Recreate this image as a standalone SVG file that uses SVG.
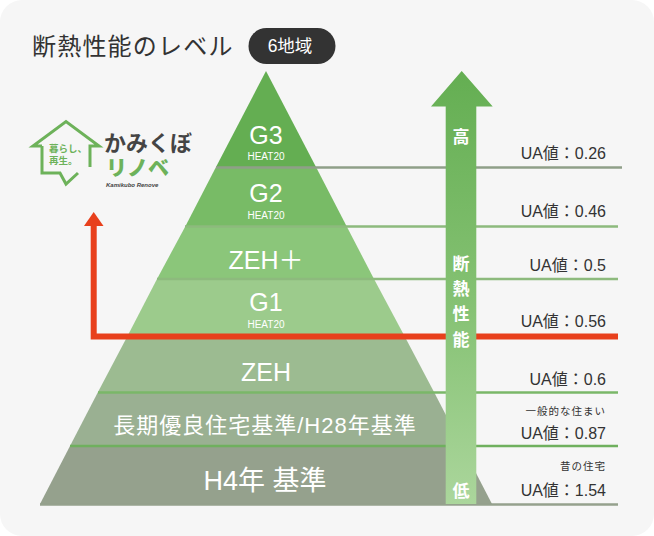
<svg xmlns="http://www.w3.org/2000/svg" width="654" height="536" viewBox="0 0 654 536">
<defs>
<linearGradient id="up" x1="0" y1="0" x2="0" y2="1"><stop offset="0" stop-color="#64ae52"/><stop offset="0.55" stop-color="#86c274"/><stop offset="1" stop-color="#abd69c"/></linearGradient>
</defs>
<style>
text{font-family:"Liberation Sans","Noto Sans CJK JP",sans-serif}
.w{fill:#fff;text-anchor:middle}
.d{fill:#333;text-anchor:end;font-size:16px}
.s{fill:#333;text-anchor:end;font-size:10.500px;letter-spacing:1px}
.h{fill:#fff;text-anchor:middle;font-size:10px}
.l{fill:none;stroke-width:2.500}
</style>
<rect width="654" height="536" fill="#fff"/>
<rect width="654" height="536" rx="22" fill="#f6f6f6"/>
<g id="title">
<text x="32" y="55" font-size="24" fill="#333" letter-spacing="1.200">断熱性能のレベル</text>
<rect x="248.500" y="28" width="87" height="36" rx="18" fill="#333"/>
<text x="290" y="52" class="w" font-size="17.500">6地域</text>
</g>
<g id="pyramid">
<g id="level-g3"><polygon points="266,71 316,167 216,167" fill="#64ae52"/><text x="266" y="144" class="w" font-size="25">G3</text><text x="266" y="160" class="h">HEAT20</text></g>
<g id="level-g2"><polygon points="216,167 316,167 347,227 185,227" fill="#78bb66"/><text x="266" y="202" class="w" font-size="25">G2</text><text x="266" y="219" class="h">HEAT20</text></g>
<g id="level-zehplus"><polygon points="185,227 347,227 374,279 157,279" fill="#8bc67a"/><text x="266" y="269" class="w" font-size="25">ZEH＋</text></g>
<g id="level-g1"><polygon points="157,279 374,279 405,337 127,337" fill="#9ccb8c"/><text x="266" y="311" class="w" font-size="25">G1</text><text x="266" y="328" class="h">HEAT20</text></g>
<g id="level-zeh"><polygon points="127,337 405,337 434,392 98,392" fill="#9cbb91"/><text x="266" y="381" class="w" font-size="25">ZEH</text></g>
<g id="level-long"><polygon points="98,392 434,392 462,446 70,446" fill="#9ab092"/><text x="265" y="433" class="w" font-size="22" letter-spacing="1">長期優良住宅基準/H28年基準</text></g>
<g id="level-h4"><polygon points="70,446 462,446 492,504 40,504" fill="#95a18d"/><text x="265" y="490" class="w" font-size="27">H4年 基準</text></g>
</g>
<g id="connectors">
<path class="l" stroke="#8f9f88" d="M216 167.500H622"/>
<path class="l" stroke="#8dba7d" d="M185 226.500H618"/>
<path class="l" stroke="#8dba7d" d="M157 279H618"/>
<path class="l" stroke="#7ab768" d="M98 392.500H618"/>
<path class="l" stroke="#6fb05e" d="M70 446H618"/>
<path class="l" stroke="#95a18d" d="M40 504.500H618"/>
<path fill="none" stroke="#e8401c" stroke-width="6" d="M618 336.500H93.700V222"/>
<polygon points="84,226 103.500,226 93.700,212" fill="#e8401c"/>
</g>
<g id="performance-arrow">
<polygon points="461.700,71 492.700,106.500 476.300,106.500 476.300,504 445.700,504 445.700,106.500 431,106.500" fill="url(#up)"/>
<g class="w" font-size="17" font-weight="700">
<text x="461" y="142.500">高</text><text x="461" y="270">断</text><text x="461" y="295">熱</text><text x="461" y="320">性</text><text x="461" y="346">能</text><text x="461" y="497">低</text>
</g>
</g>
<g id="ua-values">
<text x="606" y="159" class="d">UA値：0.26</text>
<text x="606" y="216.500" class="d">UA値：0.46</text>
<text x="606" y="270.500" class="d">UA値：0.5</text>
<text x="606" y="327" class="d">UA値：0.56</text>
<text x="606" y="385" class="d">UA値：0.6</text>
<text x="606" y="415" class="s">一般的な住まい</text>
<text x="606" y="439" class="d">UA値：0.87</text>
<text x="606" y="470" class="s">昔の住宅</text>
<text x="606" y="496" class="d">UA値：1.54</text>
</g>
<g id="logo">
<path d="M42 146H33L66 121.500L99 146H90V167M42 146V173H60L66 184L78 173" fill="none" stroke="#6db25a" stroke-width="3"/>
<text x="49" y="152" font-size="9.500" font-weight="700" fill="#6db25a">暮らし、</text>
<text x="49" y="164" font-size="9.500" font-weight="700" fill="#6db25a">再生。</text>
<text x="104" y="151" font-size="22" font-weight="700" fill="#444">かみくぼ</text>
<text x="106" y="175" font-size="21" font-weight="900" fill="#6db25a">リノベ</text>
<text x="106" y="187" font-size="6" font-weight="700" font-style="italic" fill="#444">Kamikubo Renove</text>
</g>
</svg>
